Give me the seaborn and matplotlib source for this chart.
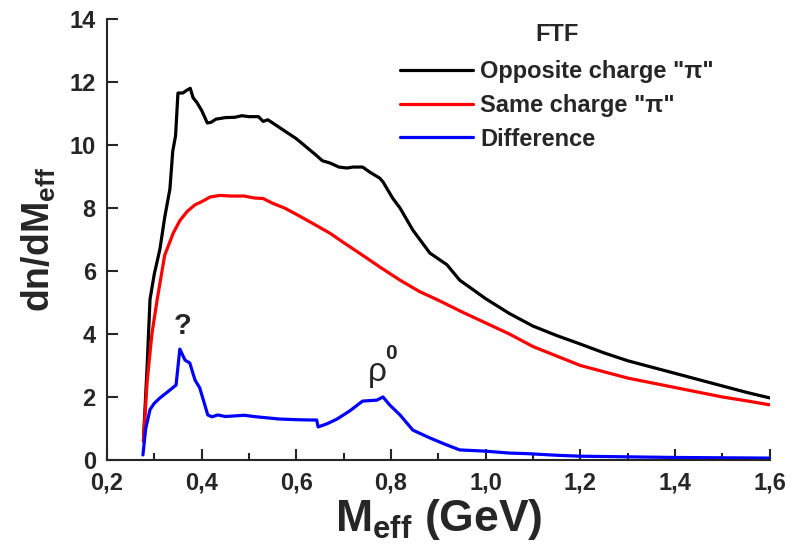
import numpy as np
import pandas as pd
import matplotlib
matplotlib.use("Agg")
import matplotlib.pyplot as plt
import seaborn as sns

# values
opp_x = [0.277, 0.285, 0.291, 0.30, 0.312, 0.322, 0.333, 0.339, 0.345, 0.350, 0.360, 0.370,
         0.376, 0.382, 0.390, 0.400, 0.412, 0.420, 0.430, 0.450, 0.470, 0.485, 0.500, 0.520,
         0.530, 0.540, 0.560, 0.580, 0.600, 0.620, 0.640, 0.655, 0.671, 0.690, 0.707, 0.720,
         0.740, 0.755, 0.776, 0.783, 0.804, 0.819, 0.846, 0.882, 0.918, 0.945, 1.00, 1.05,
         1.10, 1.15, 1.20, 1.25, 1.30, 1.35, 1.40, 1.45, 1.50, 1.55, 1.60]
opp_y = [0.6, 3.0, 5.1, 5.9, 6.7, 7.7, 8.6, 9.8, 10.3, 11.65, 11.65, 11.75,
         11.8, 11.5, 11.35, 11.1, 10.7, 10.72, 10.82, 10.87, 10.88, 10.93, 10.9, 10.9,
         10.75, 10.8, 10.6, 10.4, 10.2, 9.95, 9.7, 9.5, 9.43, 9.3, 9.27, 9.3,
         9.3, 9.14, 8.95, 8.83, 8.3, 8.0, 7.3, 6.57, 6.2, 5.71, 5.12, 4.65,
         4.25, 3.95, 3.68, 3.4, 3.15, 2.95, 2.75, 2.55, 2.35, 2.15, 1.97]

same_x = [0.277, 0.285, 0.295, 0.306, 0.322, 0.340, 0.354, 0.370, 0.386, 0.400, 0.418, 0.439,
          0.460, 0.490, 0.510, 0.530, 0.550, 0.575, 0.600, 0.630, 0.671, 0.700, 0.740, 0.776,
          0.820, 0.860, 0.903, 0.950, 1.00, 1.05, 1.10, 1.15, 1.20, 1.25, 1.30, 1.35,
          1.40, 1.45, 1.50, 1.55, 1.60]
same_y = [0.6, 2.5, 4.0, 5.08, 6.5, 7.2, 7.6, 7.9, 8.1, 8.2, 8.35, 8.4,
          8.38, 8.38, 8.32, 8.3, 8.15, 8.0, 7.8, 7.55, 7.2, 6.9, 6.5, 6.13,
          5.7, 5.35, 5.05, 4.7, 4.35, 4.0, 3.6, 3.3, 3.0, 2.8, 2.6, 2.45,
          2.3, 2.15, 2.0, 1.88, 1.75]

diff_x = [0.276, 0.282, 0.291, 0.300, 0.312, 0.333, 0.346, 0.354, 0.365, 0.375, 0.386, 0.396,
          0.413, 0.422, 0.434, 0.450, 0.470, 0.490, 0.510, 0.530, 0.565, 0.600, 0.629, 0.643,
          0.646, 0.665, 0.686, 0.713, 0.740, 0.770, 0.783, 0.797, 0.819, 0.846, 0.882, 0.914,
          0.945, 1.00, 1.05, 1.09, 1.15, 1.20, 1.30, 1.40, 1.50, 1.60]
diff_y = [0.16, 1.0, 1.6, 1.8, 1.97, 2.22, 2.38, 3.52, 3.17, 3.08, 2.54, 2.29,
          1.43, 1.37, 1.43, 1.38, 1.4, 1.42, 1.38, 1.35, 1.3, 1.28, 1.27, 1.27,
          1.05, 1.15, 1.3, 1.56, 1.87, 1.9, 2.0, 1.75, 1.43, 0.95, 0.7, 0.5,
          0.32, 0.28, 0.22, 0.2, 0.15, 0.12, 0.1, 0.08, 0.07, 0.06]

labels = ['Opposite charge "π"', 'Same charge "π"', 'Difference']
colors = ["black", "red", "blue"]

x_ticks = [0.2, 0.4, 0.6, 0.8, 1.0, 1.2, 1.4, 1.6]
x_tick_labels = ["0,2", "0,4", "0,6", "0,8", "1,0", "1,2", "1,4", "1,6"]
y_ticks = [0, 2, 4, 6, 8, 10, 12, 14]
y_tick_labels = ["0", "2", "4", "6", "8", "10", "12", "14"]

df = pd.concat([
    pd.DataFrame({"M": opp_x, "dn": opp_y, "series": labels[0]}),
    pd.DataFrame({"M": same_x, "dn": same_y, "series": labels[1]}),
    pd.DataFrame({"M": diff_x, "dn": diff_y, "series": labels[2]}),
])

sns.set_style("ticks")
plt.rcParams["font.family"] = ["Liberation Sans", "DejaVu Sans"]
plt.rcParams["font.weight"] = "bold"
plt.rcParams["mathtext.fontset"] = "custom"
plt.rcParams["mathtext.bf"] = "Liberation Sans:bold"
plt.rcParams["mathtext.rm"] = "Liberation Sans:bold"

fig = plt.figure(figsize=(7.92, 5.48), dpi=100)
ax = fig.add_axes([0.135, 0.1606, 0.837, 0.8047])

sns.lineplot(data=df, x="M", y="dn", hue="series", palette=colors,
             estimator=None, sort=False, linewidth=2.3, ax=ax)

ax.set_xlim(0.2, 1.6)
ax.set_ylim(0, 14)
ax.set_xticks(x_ticks)
ax.set_xticklabels(x_tick_labels)
ax.set_xticks(np.arange(0.3, 1.6, 0.2), minor=True)
ax.set_yticks(y_ticks)
ax.set_yticklabels(y_tick_labels)
ax.tick_params(axis="both", which="major", direction="in", length=8, width=1.5,
               labelsize=17, pad=8)
ax.tick_params(axis="x", which="minor", direction="in", length=5, width=1.5)
for lab in ax.get_xticklabels() + ax.get_yticklabels():
    lab.set_fontweight("bold")

sns.despine(ax=ax)
ax.spines["left"].set_linewidth(1.5)
ax.spines["bottom"].set_linewidth(1.5)

ax.set_xlabel(r"M$_\mathbf{eff}$ (GeV)", fontsize=32, fontweight="bold", labelpad=2)
ax.set_ylabel(r"dn/dM$_\mathbf{eff}$", fontsize=27, fontweight="bold", labelpad=8)

ax.text(0.36, 4.0, "?", fontsize=21, fontweight="bold", ha="center", va="baseline")
ax.text(0.77, 2.5, "ρ", fontsize=24, fontweight="normal", ha="center", va="baseline")
ax.text(0.80, 3.2, "0", fontsize=15, fontweight="bold", ha="center", va="baseline")

leg = ax.legend(title="FTF", frameon=False, loc="upper left",
                bbox_to_anchor=(0.442, 0.99), borderpad=0, borderaxespad=0,
                handlelength=3.1, handletextpad=0.3, labelspacing=0.45,
                fontsize=17, title_fontsize=17)
leg.get_title().set_fontweight("bold")
leg._legend_box.sep = 10
for t in leg.get_texts():
    t.set_fontweight("bold")
for line in leg.get_lines():
    line.set_linewidth(2.3)

fig.savefig("out.png", dpi=100)
